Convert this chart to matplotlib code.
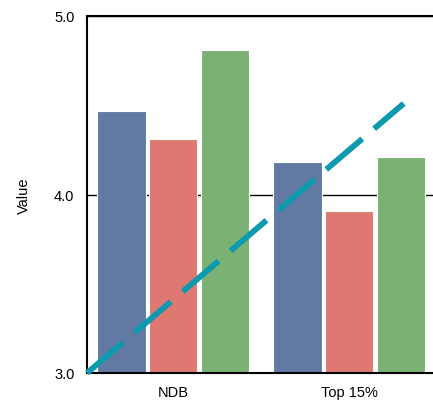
import matplotlib.pyplot as plt
import numpy as np

plt.rcParams['font.family'] = ['Liberation Sans', 'DejaVu Sans']

# Data
categories = ['NDB', 'Top 15%']
series_a = [4.47, 4.18]   # blue
series_b = [4.31, 3.91]   # red
series_c = [4.81, 4.21]   # green
trend_x = [-0.49, 1.31]
trend_y = [3.0, 4.51]

colors = ['#627aa3', '#e07872', '#7bb273']

fig = plt.figure(figsize=(4.33, 4.06), dpi=100)
ax = fig.add_axes([87/433, 32/406, 352/433, 357/406])

x = np.arange(len(categories))
width = 0.275
offset = 0.293
for i, (vals, c) in enumerate(zip([series_a, series_b, series_c], colors)):
    ax.bar(x + (i - 1) * offset, vals, width, color=c, edgecolor='white',
           linewidth=0.8, zorder=2)

# dashed trend line
ax.plot(trend_x, trend_y, color='#0e9aae', linewidth=4.2,
        linestyle=(0, (8.1, 2.67)), zorder=3, clip_on=False,
        dash_capstyle='butt')

ax.set_xlim(-0.49, 1.51)
ax.set_ylim(3.0, 5.0)
ax.set_yticks([3.0, 4.0, 5.0])
ax.set_yticklabels(['3.0', '4.0', '5.0'])
ax.set_xticks(x)
ax.set_xticklabels(categories)
ax.tick_params(axis='y', length=0, labelsize=10.5, pad=9)
ax.tick_params(axis='x', length=0, labelsize=10.5, pad=9)
ax.set_ylabel('Value', fontsize=10.5, labelpad=17)

ax.grid(axis='y', color='black', linewidth=1, zorder=1)
ax.set_axisbelow(True)
for s in ['left', 'top', 'bottom']:
    ax.spines[s].set_linewidth(1.5)
ax.spines['right'].set_visible(False)

fig.savefig('out.png', dpi=100)
